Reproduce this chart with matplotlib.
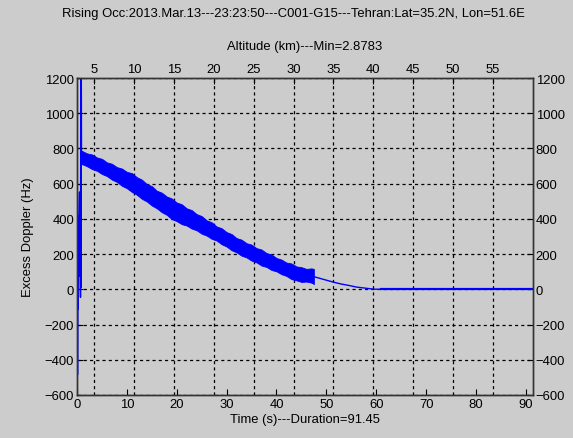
import numpy as np
import matplotlib
matplotlib.use("Agg")
import matplotlib.pyplot as plt

plt.rcParams['font.family'] = ['Liberation Sans', 'DejaVu Sans']

# --------------------------------------------------
# Data
# --------------------------------------------------
title = "Rising Occ:2013.Mar.13---23:23:50---C001-G15---Tehran:Lat=35.2N, Lon=51.6E"
duration = 91.45
alt_min = 2.8783
alt_max = 60.0

# start-up spikes (s, Hz)
spike_t = [0.15, 0.17, 0.21, 0.25, 0.29, 0.33, 0.40, 0.50, 0.54, 0.58, 0.70, 0.75, 0.80, 0.85, 0.90]
spike_v = [-481, -36, -112, -40, 418, 305, 420, 553, 76, 300, -45, 1400, 10, 1400, 787]

# noisy band: upper / lower envelope at 1 s steps
band_t = list(range(1, 48))
band_hi = [786, 772, 766, 749, 741, 721, 713, 694, 686, 667, 660, 637, 623, 598, 586, 560,
           549, 527, 516, 493, 483, 460, 450, 427, 416, 392, 381, 357, 347, 325, 314, 291,
           282, 262, 254, 234, 226, 206, 198, 178, 169, 152, 147, 130, 126, 116, 119]
band_lo = [711, 699, 683, 673, 655, 643, 623, 610, 588, 574, 553, 537, 514, 499, 476, 460,
           438, 423, 399, 387, 370, 362, 345, 335, 316, 305, 287, 277, 256, 243, 222, 210,
           191, 181, 163, 153, 135, 127, 110, 102, 86, 76, 58, 51, 42, 44, 38]

# smooth tail after the noisy part
tail_t = [47.5, 48.5, 50, 51.4, 53, 54.7, 56, 58, 59.5, 61, 70, 80, 91.45]
tail_v = [72, 64, 52, 41, 30, 21, 13, 6, 1, 0, 0, 0, 0]

yticks = list(range(-600, 1201, 200))
xticks = list(range(0, 91, 10))
alt_ticks = list(range(5, 56, 5))

# --------------------------------------------------
# Figure
# --------------------------------------------------
fs = 9.4
fig = plt.figure(figsize=(5.73, 4.39), dpi=100, facecolor='#cccccc')
ax = fig.add_axes([0.1344, 0.098, 0.7958, 0.722])
ax2 = ax.twiny()

# altitude axis behind, its grid gives the vertical lines
ax2.set_zorder(0)
ax.set_zorder(1)
ax.patch.set_visible(False)
ax2.patch.set_facecolor('white')

grid_kw = dict(color='black', linestyle=(0, (2.5, 2.5)), linewidth=0.9)
ax2.set_xlim(alt_min, alt_max)
ax2.set_xticks(alt_ticks)
ax2.grid(True, axis='x', **grid_kw)
ax2.tick_params(axis='x', direction='in', length=4, labelsize=fs, pad=2)
ax2.set_xlabel("Altitude (km)---Min=2.8783", fontsize=fs, labelpad=10)

ax.set_axisbelow(True)
ax.grid(True, axis='y', **grid_kw)

blue = '#0000ff'
ax.plot(spike_t, spike_v, color=blue, linewidth=1.0)
ax.fill_between([0.9] + band_t + [47.5], [787] + band_hi + [116], [712] + band_lo + [30],
                color=blue, linewidth=0.6, edgecolor=blue)
ax.plot(tail_t, tail_v, color=blue, linewidth=1.0)
ax.plot(tail_t[9:], tail_v[9:], color=blue, linewidth=1.6)

ax.set_xlim(0, duration)
ax.set_ylim(-600, 1200)
ax.set_xticks(xticks)
ax.set_yticks(yticks)
ax.tick_params(axis='both', direction='in', length=4, labelsize=fs, pad=2)
ax.tick_params(axis='y', right=True, labelright=True)
ax.tick_params(axis='x', top=False)
ax.set_xlabel("Time (s)---Duration=91.45", fontsize=fs, labelpad=2)
ax.set_ylabel("Excess Doppler (Hz)", fontsize=fs, labelpad=8)

for a in (ax, ax2):
    for s in a.spines.values():
        s.set_linewidth(1.0)
        s.set_color('#333333')

fig.text(0.512, 0.968, title, ha='center', va='center', fontsize=fs)

fig.savefig("out.png", dpi=100, facecolor=fig.get_facecolor())
